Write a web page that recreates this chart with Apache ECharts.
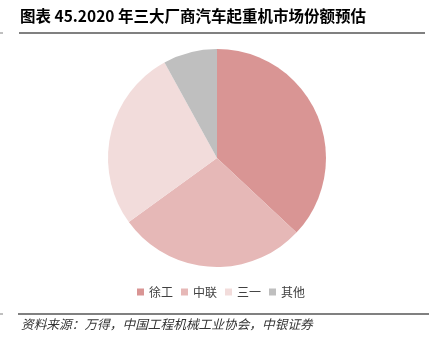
<!DOCTYPE html>
<html>
<head>
<meta charset="utf-8">
<script src="https://cdn.jsdelivr.net/npm/echarts@6/dist/echarts.min.js"></script>
<style>
  html, body { margin: 0; padding: 0; background: #ffffff; }
  #chart { width: 429px; height: 348px; }
</style>
</head>
<body>
<div id="chart"></div>
<script>
// Market share estimate for truck cranes, 2020 (percent)
const titleText = '图表 45.2020 年三大厂商汽车起重机市场份额预估';
const sourceText = '资料来源：万得，中国工程机械工业协会，中银证券';
const makers = ['徐工', '中联', '三一', '其他'];
const shares = [37, 28, 27, 8];
const sliceColors = ['#d99594', '#e6b8b7', '#f2dcdb', '#bfbfbf'];

const cjk = '"Noto Sans CJK SC", "Liberation Sans", sans-serif';

const chart = echarts.init(document.getElementById('chart'), null, { renderer: 'canvas' });

chart.setOption({
  backgroundColor: '#ffffff',
  animation: false,
  title: {
    text: titleText,
    left: 15,
    top: 3,
    textStyle: { fontFamily: cjk, fontSize: 15.5, fontWeight: 'bold', color: '#000000' }
  },
  legend: {
    data: makers,
    left: 132,
    top: 281,
    icon: 'rect',
    itemWidth: 7,
    itemHeight: 7,
    itemGap: 8,
    textStyle: { fontFamily: cjk, fontSize: 12, color: '#404040' }
  },
  graphic: [
    { type: 'line', shape: { x1: 19, y1: 33, x2: 425, y2: 33 }, style: { stroke: '#808080', lineWidth: 2 } },
    { type: 'line', shape: { x1: 18, y1: 314, x2: 429, y2: 314 }, style: { stroke: '#808080', lineWidth: 2 } },
    { type: 'line', shape: { x1: 0, y1: 33, x2: 3, y2: 33 }, style: { stroke: '#808080', lineWidth: 1 } },
    { type: 'line', shape: { x1: 0, y1: 314, x2: 3, y2: 314 }, style: { stroke: '#808080', lineWidth: 1 } },
    {
      type: 'text', left: 21, top: 318,
      style: { text: sourceText, font: 'italic 12.7px ' + cjk, fill: '#333333' }
    }
  ],
  series: [{
    type: 'pie',
    center: [217, 158],
    radius: [0, 109],
    startAngle: 90,
    clockwise: true,
    label: { show: false },
    labelLine: { show: false },
    itemStyle: { borderWidth: 0 },
    emphasis: { disabled: true },
    data: makers.map((name, i) => ({ name, value: shares[i], itemStyle: { color: sliceColors[i] } }))
  }]
});
</script>
</body>
</html>
